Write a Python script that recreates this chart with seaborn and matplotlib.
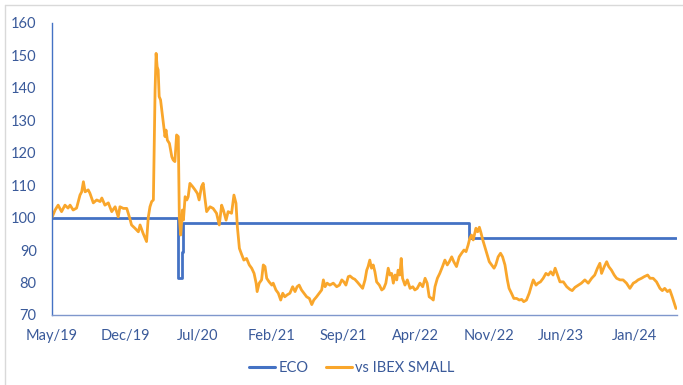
import matplotlib
matplotlib.use("Agg")
import matplotlib.pyplot as plt
import matplotlib.dates as mdates
from matplotlib.lines import Line2D
import seaborn as sns
import pandas as pd

# ---- data -------------------------------------------------------------
start_date = "2019-05-01"

# ECO: level changes (days since start, value held until next change)
eco_days = [0, 370, 380, 385, 1222, 1828]
eco_values = [100.0, 81.3, 89.5, 98.2, 93.6, 93.6]

# vs IBEX SMALL relative performance (days since start, value)
ibex_days = [
    0, 9, 18, 28, 38, 47, 53, 62, 72, 82, 87, 92, 97, 106, 111, 121, 131, 141,
    146, 155, 165, 175, 185, 194, 199, 209, 219, 228, 233, 243, 253, 258, 263,
    267, 277, 282, 287, 292, 297, 302, 305, 308, 311, 314, 318, 324, 331, 334,
    338, 344, 351, 355, 360, 365, 370, 373, 377, 382, 385, 390, 395, 399, 404,
    412, 419, 426, 431, 438, 443, 448, 453, 463, 472, 482, 490, 497, 502, 510,
    516, 526, 533, 539, 543, 549, 556, 562, 570, 578, 585, 592, 598, 601, 607,
    614, 619, 624, 629, 636, 644, 648, 656, 663, 670, 676, 682, 689, 697, 705,
    712, 718, 724, 731, 738, 746, 754, 761, 767, 775, 783, 790, 795, 800, 806,
    814, 824, 834, 842, 849, 855, 861, 868, 873, 881, 887, 894, 902, 910, 917,
    922, 926, 931, 936, 941, 946, 951, 959, 966, 972, 978, 985, 990, 995, 1000,
    1005, 1010, 1014, 1019, 1023, 1027, 1034, 1041, 1049, 1057, 1063, 1070,
    1078, 1086, 1093, 1099, 1105, 1112, 1117, 1122, 1129, 1136, 1144, 1151,
    1158, 1164, 1171, 1177, 1185, 1193, 1200, 1207, 1213, 1219, 1224, 1229,
    1234, 1242, 1247, 1252, 1256, 1262, 1268, 1275, 1281, 1288, 1295, 1300,
    1307, 1314, 1320, 1327, 1334, 1339, 1346, 1353, 1361, 1369, 1376, 1382,
    1390, 1398, 1405, 1410, 1418, 1424, 1431, 1439, 1447, 1454, 1461, 1468,
    1474, 1481, 1488, 1498, 1508, 1517, 1524, 1532, 1542, 1551, 1561, 1571,
    1581, 1590, 1598, 1605, 1610, 1618, 1625, 1631, 1639, 1647, 1654, 1664,
    1673, 1683, 1693, 1703, 1710, 1717, 1727, 1735, 1745, 1752, 1761, 1771,
    1781, 1788, 1795, 1803, 1810, 1817, 1823, 1828,
]
ibex_values = [
    100.0, 102.3, 103.8, 101.8, 103.8, 102.9, 103.8, 102.3, 102.9, 106.9, 107.9,
    111.0, 107.9, 108.5, 107.5, 104.5, 105.4, 104.9, 106.0, 103.8, 104.5, 101.8,
    103.3, 100.2, 103.3, 102.8, 102.8, 99.7, 97.7, 96.7, 95.6, 97.7, 96.2, 95.1,
    92.6, 100.0, 103.3, 104.9, 105.4, 139.2, 150.5, 146.4, 145.4, 137.2, 136.2,
    131.0, 124.9, 126.9, 123.8, 122.8, 118.7, 117.7, 117.2, 125.4, 124.9, 100.2,
    94.6, 102.3, 99.2, 106.4, 105.4, 106.4, 110.5, 109.5, 108.5, 107.4, 105.4,
    109.5, 110.5, 105.9, 101.8, 103.3, 102.8, 101.3, 97.7, 103.8, 102.3, 99.2,
    101.8, 101.3, 106.9, 104.4, 97.2, 90.5, 88.5, 86.9, 87.4, 85.4, 84.4, 82.8,
    79.8, 77.2, 79.8, 80.8, 85.4, 84.9, 81.3, 80.2, 79.2, 79.8, 77.7, 76.7, 74.6,
    76.7, 75.6, 76.2, 76.7, 78.7, 77.2, 78.7, 79.2, 77.7, 76.7, 75.6, 75.1, 73.2,
    74.6, 75.6, 76.7, 77.7, 80.8, 78.7, 79.8, 79.2, 79.8, 78.7, 79.2, 80.8, 80.2,
    79.2, 81.8, 82.0, 81.3, 81.0, 80.2, 79.2, 78.2, 80.8, 83.8, 84.9, 86.9, 84.4,
    85.4, 83.3, 80.2, 79.2, 77.7, 78.2, 79.8, 84.4, 82.3, 82.8, 79.8, 82.3, 80.8,
    83.8, 82.3, 87.4, 81.3, 79.2, 80.8, 78.2, 78.7, 77.7, 78.2, 79.8, 78.7, 81.3,
    79.8, 75.6, 75.1, 74.6, 78.7, 81.3, 82.8, 84.9, 86.9, 85.4, 86.4, 87.9, 86.4,
    84.9, 87.9, 89.0, 90.0, 89.5, 91.5, 93.6, 94.6, 93.1, 96.7, 95.6, 97.0, 95.6,
    93.1, 91.0, 88.5, 86.4, 85.4, 84.4, 85.4, 87.9, 89.0, 87.9, 85.4, 80.8, 78.2,
    76.7, 75.1, 75.1, 74.6, 74.8, 74.1, 74.6, 76.7, 79.2, 80.8, 79.2, 79.8, 80.2,
    81.3, 82.8, 82.3, 83.3, 82.3, 84.4, 82.3, 80.2, 80.2, 78.7, 77.9, 77.5, 78.5,
    79.2, 79.8, 80.8, 79.8, 81.3, 82.3, 84.4, 85.9, 82.8, 84.9, 86.4, 84.9, 83.8,
    82.3, 81.3, 80.8, 80.8, 79.8, 78.2, 79.8, 80.2, 80.8, 81.3, 81.8, 82.3, 81.3,
    81.3, 80.2, 78.2, 77.5, 78.2, 77.2, 77.7, 75.6, 73.6, 72.0,
]

series_names = ["ECO", "vs IBEX SMALL"]
y_ticks = [70, 80, 90, 100, 110, 120, 130, 140, 150, 160]
span_days = 1831

# ---- frames -----------------------------------------------------------
t0 = pd.Timestamp(start_date)
eco_df = pd.DataFrame({
    "date": t0 + pd.to_timedelta(eco_days, unit="D"),
    "value": eco_values,
})
ibex_df = pd.DataFrame({
    "date": t0 + pd.to_timedelta(ibex_days, unit="D"),
    "value": ibex_values,
})

# ---- style ------------------------------------------------------------
sns.set_theme(style="white")
plt.rcParams["font.family"] = ["Lato", "DejaVu Sans"]

blue = "#4472C4"
orange = "#F9A62B"
text_col = "#3A5A9A"

W, H = 683, 385
fig = plt.figure(figsize=(W / 100, H / 100), dpi=100)
ax = fig.add_axes([52 / W, 1 - 315 / H, (677 - 52) / W, (315 - 22.5) / H])

sns.lineplot(data=eco_df, x="date", y="value", ax=ax, color=blue,
             linewidth=2.0, drawstyle="steps-post", label=series_names[0],
             estimator=None, sort=False)
sns.lineplot(data=ibex_df, x="date", y="value", ax=ax, color=orange,
             linewidth=2.0, label=series_names[1], estimator=None, sort=False)

# ---- axes -------------------------------------------------------------
ax.set_ylim(70, 160)
ax.set_yticks(y_ticks)
end_date = t0 + pd.Timedelta(days=span_days)
ax.set_xlim(t0, end_date)
ax.set_xticks(pd.date_range(t0, end_date, freq="7MS"))
ax.xaxis.set_major_formatter(mdates.DateFormatter("%b/%y"))
ax.set_xlabel("")
ax.set_ylabel("")
ax.grid(False)

for side in ["top", "right"]:
    ax.spines[side].set_visible(False)
ax.spines["left"].set_color(blue)
ax.spines["left"].set_linewidth(1.0)
ax.spines["bottom"].set_color("#7F97CC")
ax.spines["bottom"].set_linewidth(1.0)

ax.tick_params(axis="both", length=0, labelsize=10.5, colors=text_col)
ax.tick_params(axis="y", pad=11)
ax.tick_params(axis="x", pad=10)

# ---- legend -----------------------------------------------------------
handles, labels = ax.get_legend_handles_labels()
ax.get_legend().remove()
leg = fig.legend(handles, labels, loc="center", bbox_to_anchor=(352 / W, 1 - 368 / H),
                 ncol=2, frameon=False, fontsize=10.5, handlelength=1.75,
                 handletextpad=0.25, columnspacing=1.2)
for t in leg.get_texts():
    t.set_color(text_col)
for lh in leg.get_lines():
    lh.set_linewidth(2.2)

# light chart-area border along the top and left
fig.add_artist(Line2D([5 / W, 1.0], [1 - 5 / H, 1 - 5 / H], transform=fig.transFigure,
                      color="#D9D9D9", linewidth=1.0))
fig.add_artist(Line2D([5 / W, 5 / W], [0.0, 1 - 5 / H], transform=fig.transFigure,
                      color="#D9D9D9", linewidth=1.0))

fig.savefig("out.png", dpi=100)
